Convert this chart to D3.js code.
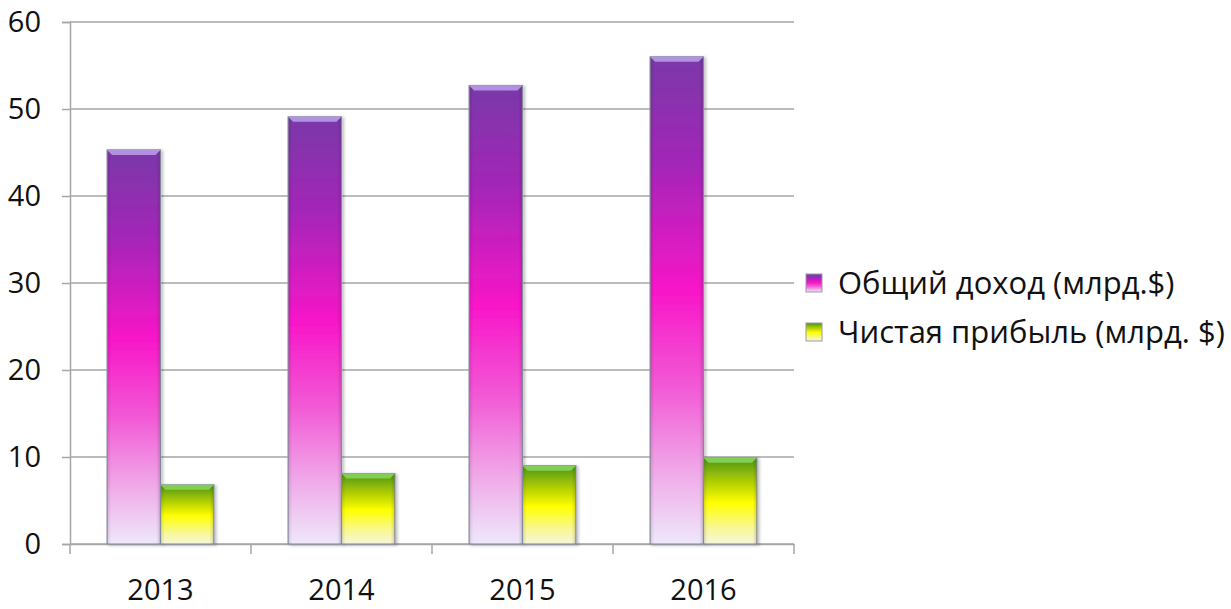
<!DOCTYPE html>
<html>
<head>
<meta charset="utf-8">
<script src="https://cdn.jsdelivr.net/npm/d3@7"></script>
<style>
  body { margin: 0; background: #fff; }
  text { font-family: "Open Sans", Lato, sans-serif; fill: #111; }
</style>
</head>
<body>
<div id="chart"></div>
<script>
// chart data
var years = ["2013", "2014", "2015", "2016"];
var seriesNames = ["Общий доход (млрд.$)", "Чистая прибыль (млрд. $)"];
var revenue = [45.3, 49.1, 52.7, 56.0];
var netProfit = [6.8, 8.1, 9.0, 9.9];
var yTicks = [0, 10, 20, 30, 40, 50, 60];

var svgWidth = 1231, svgHeight = 609;
var margin = { top: 22, left: 70, right: 437, bottom: 65 };

var svg = d3.select("#chart").append("svg")
  .attr("width", svgWidth)
  .attr("height", svgHeight);

var defs = svg.append("defs");

// gradients per series
var gradients = [
  { id: "gradRev", stops: [[0, "#7a38a8"], [0.22, "#a326b8"], [0.48, "#f816c8"], [0.68, "#f25ad6"], [0.85, "#f0a8e8"], [1, "#eee8fb"]] },
  { id: "gradNet", stops: [[0, "#4a9410"], [0.25, "#a6c806"], [0.52, "#ffff00"], [0.8, "#f8f890"], [1, "#f6f6dc"]] }
];
gradients.forEach(function(g) {
  var lg = defs.append("linearGradient")
    .attr("id", g.id)
    .attr("x1", 0).attr("y1", 0).attr("x2", 0).attr("y2", 1);
  g.stops.forEach(function(s) {
    lg.append("stop").attr("offset", s[0]).attr("stop-color", s[1]);
  });
});
var sideShade = defs.append("linearGradient").attr("id", "sideShade")
  .attr("x1", 0).attr("y1", 0).attr("x2", 1).attr("y2", 0);
sideShade.append("stop").attr("offset", 0).attr("stop-color", "#000").attr("stop-opacity", 0.12);
sideShade.append("stop").attr("offset", 0.08).attr("stop-color", "#000").attr("stop-opacity", 0);
sideShade.append("stop").attr("offset", 0.92).attr("stop-color", "#000").attr("stop-opacity", 0);
sideShade.append("stop").attr("offset", 1).attr("stop-color", "#000").attr("stop-opacity", 0.15);

var shadow = defs.append("filter").attr("id", "shadow")
  .attr("x", "-20%").attr("y", "-5%").attr("width", "150%").attr("height", "115%");
shadow.append("feDropShadow").attr("dx", 2).attr("dy", 1).attr("stdDeviation", 1.5)
  .attr("flood-color", "#000").attr("flood-opacity", 0.25);

var fills = ["url(#gradRev)", "url(#gradNet)"];
var bevelColors = ["#b89ae8", "#86d45a"];

// scales
var x = d3.scaleBand()
  .domain(years)
  .range([margin.left, svgWidth - margin.right])
  .padding(0);

var xSub = d3.scaleBand()
  .domain([0, 1])
  .range([0, x.bandwidth()])
  .paddingInner(0)
  .paddingOuter(0.694);

var y = d3.scaleLinear()
  .domain([0, 60])
  .range([svgHeight - margin.bottom, margin.top]);

var plotRight = x.range()[1];

// gridlines
svg.append("g")
  .selectAll("line")
  .data(yTicks)
  .enter()
  .append("line")
  .attr("x1", margin.left)
  .attr("x2", plotRight)
  .attr("y1", d => y(d))
  .attr("y2", d => y(d))
  .attr("stroke", "#a6a6a6")
  .attr("stroke-width", 1.5);

// y axis
var yAxis = d3.axisLeft(y).tickValues(yTicks).tickSize(8).tickPadding(21);
var yG = svg.append("g")
  .attr("transform", `translate(${margin.left}, 0)`)
  .call(yAxis);
yG.select(".domain").attr("stroke", "#a6a6a6").attr("stroke-width", 1.5);
yG.selectAll(".tick line").attr("stroke", "#a6a6a6").attr("stroke-width", 1.5);
yG.selectAll(".tick text")
  .style("font-size", "29px")
  .attr("fill", "#111");

// x axis: labels centered, ticks at category boundaries
var xAxis = d3.axisBottom(x).tickSize(0).tickPadding(35);
var xG = svg.append("g")
  .attr("transform", `translate(0, ${y(0)})`)
  .call(xAxis);
xG.select(".domain").attr("stroke", "#a6a6a6").attr("stroke-width", 1.5);
xG.selectAll(".tick text")
  .style("font-size", "29px")
  .attr("fill", "#111");

var bounds = years.map(d => x(d)).concat([plotRight]);
xG.selectAll(".bound")
  .data(bounds)
  .enter()
  .append("line")
  .attr("class", "bound")
  .attr("x1", d => d).attr("x2", d => d)
  .attr("y1", 0).attr("y2", 10)
  .attr("stroke", "#a6a6a6")
  .attr("stroke-width", 1.5);

// bars
var series = [revenue, netProfit];
series.forEach(function(vals, si) {
  var g = svg.append("g");
  var bars = g.selectAll("g.bar")
    .data(vals)
    .enter()
    .append("g")
    .attr("class", "bar")
    .attr("transform", (d, i) => `translate(${x(years[i]) + xSub(si)}, 0)`);

  var w = xSub.bandwidth();

  bars.append("rect")
    .attr("x", 0)
    .attr("y", d => y(d))
    .attr("width", w)
    .attr("height", d => y(0) - y(d))
    .attr("fill", fills[si])
    .attr("stroke", "#8e94a8")
    .attr("stroke-width", 1.2)
    .attr("filter", "url(#shadow)");

  bars.append("rect")
    .attr("x", 0)
    .attr("y", d => y(d))
    .attr("width", w)
    .attr("height", d => y(0) - y(d))
    .attr("fill", "url(#sideShade)");

  // bevel on top edge
  bars.append("path")
    .attr("d", d => {
      var t = y(d);
      return `M0,${t} L${w},${t} L${w - 5},${t + 5} L5,${t + 5} Z`;
    })
    .attr("fill", bevelColors[si])
    .attr("opacity", 0.9);
});

// legend
var legend = svg.append("g")
  .attr("transform", "translate(806, 0)");
var legendY = [283, 332];
seriesNames.forEach(function(name, i) {
  legend.append("rect")
    .attr("x", 0)
    .attr("y", legendY[i] - 9)
    .attr("width", 16)
    .attr("height", 18)
    .attr("fill", fills[i])
    .attr("stroke", "#9a9aa8")
    .attr("stroke-width", 1);
  legend.append("text")
    .attr("x", 32)
    .attr("y", legendY[i])
    .attr("dy", "0.35em")
    .style("font-size", "31px")
    .text(name);
});
</script>
</body>
</html>
